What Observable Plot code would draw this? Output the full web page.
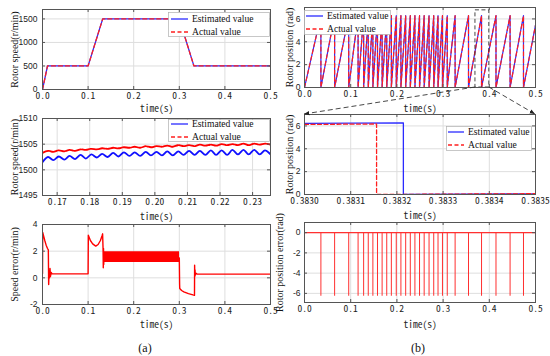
<!DOCTYPE html>
<html><head><meta charset="utf-8">
<script src="https://cdn.jsdelivr.net/npm/d3@7"></script>
<script src="https://cdn.jsdelivr.net/npm/@observablehq/plot@0.6"></script>
<style>
body{margin:0;background:#fff;}
#fig{position:relative;width:550px;height:356px;overflow:hidden;background:#fff;}
.cap{position:absolute;font-family:"Liberation Serif","Times New Roman",serif;font-size:12px;color:#111;transform:translate(-50%,-50%);}
</style></head><body><div id="fig"></div>
<script>
// ---------------- data ----------------
// (a) top: rotor speed profile
const speedT = [0, 0.011, 0.1, 0.132, 0.3, 0.332, 0.5];
const speedActual = [0, 500, 500, 1500, 1500, 500, 500];
const speedEstimated = [0, 501, 501, 1501, 1501, 501, 501];

// (a) middle: zoomed speed (ripple extrema)
const zoomSpeedT = [0.1655, 0.1672, 0.1688, 0.1705, 0.1722, 0.1738, 0.1755, 0.1772, 0.1788, 0.1805, 0.1822, 0.1838, 0.1855, 0.1872, 0.1888, 0.1905, 0.1922, 0.1938, 0.1955, 0.1972, 0.1988, 0.2005, 0.2022, 0.2038, 0.2055, 0.2072, 0.2088, 0.2105, 0.2122, 0.2138, 0.2155, 0.2172, 0.2188, 0.2205, 0.2222, 0.2238, 0.2255, 0.2272, 0.2288, 0.2305, 0.2322, 0.2338, 0.2355];
const zoomSpeedEstimated = [1501.5, 1502.5, 1501.9, 1502.6, 1502.0, 1502.7, 1502.1, 1502.9, 1502.2, 1503.0, 1502.4, 1503.1, 1502.5, 1503.3, 1502.6, 1503.4, 1502.7, 1503.4, 1502.7, 1503.5, 1502.8, 1503.5, 1502.8, 1503.6, 1502.8, 1503.6, 1502.9, 1503.7, 1502.9, 1503.7, 1502.9, 1503.8, 1502.9, 1503.8, 1502.9, 1503.9, 1503.0, 1503.9, 1503.0, 1503.9, 1503.0, 1503.8, 1503.0];
const zoomSpeedActual = [1503.3, 1503.7, 1503.5, 1503.8, 1503.6, 1503.9, 1503.7, 1504.0, 1503.9, 1504.1, 1504.0, 1504.2, 1504.1, 1504.3, 1504.2, 1504.4, 1504.3, 1504.5, 1504.3, 1504.6, 1504.4, 1504.6, 1504.5, 1504.7, 1504.5, 1504.8, 1504.6, 1504.8, 1504.6, 1504.9, 1504.7, 1504.9, 1504.7, 1505.0, 1504.8, 1505.0, 1504.8, 1505.1, 1504.8, 1505.1, 1504.9, 1505.1, 1504.9];

// (a) bottom: speed error
const errT = [0, 0.0005, 0.002, 0.005, 0.008, 0.011, 0.0128, 0.0135, 0.0145, 0.0155, 0.0165, 0.0175, 0.019, 0.021, 0.1, 0.1005, 0.105, 0.11, 0.1168, 0.122, 0.127, 0.131, 0.1318, 0.1328, 0.1333, 0.1338, 0.1343, 0.1348, 0.1355, 0.3, 0.3007, 0.301, 0.305, 0.31, 0.32, 0.33, 0.3333, 0.3336, 0.334, 0.3345, 0.335, 0.336, 0.339, 0.5];
const errV = [0.3, 3.4, 3.2, 2.8, 2.45, 2.2, 2.1, -0.5, 0.5, 0.0, 0.7, 0.1, 0.4, 0.3, 0.3, 3.2, 2.8, 2.55, 2.38, 2.5, 2.8, 3.2, 3.3, 2.2, 0.75, 2.2, 1.0, 1.9, 1.5, 1.5, -0.5, -0.8, -0.95, -1.05, -1.18, -1.28, -1.31, 0.95, 0.1, 0.6, 0.2, 0.35, 0.28, 0.28];
const errBandT = [0.1345, 0.3005];
const errBandLow = [1.15, 1.15];
const errBandHigh = [1.96, 1.96];

// (b) top / bottom: rotor position wrap instants
const wrapT = [0.0355, 0.0652, 0.0957, 0.116, 0.128, 0.138, 0.148, 0.158, 0.168, 0.178, 0.188, 0.1986, 0.2087, 0.219, 0.229, 0.239, 0.249, 0.259, 0.2696, 0.2797, 0.289, 0.2986, 0.309, 0.326, 0.355, 0.3832, 0.4145, 0.445, 0.474];
const posMax = 6.283;
const posEndT = 0.5, posEndV = 5.45;
const zoomBox = {x1: 0.37, x2: 0.40, y1: 0, y2: 6.75};

// (b) middle: zoomed rotor position
const zoomPosEstT = [0.3830, 0.383214, 0.383214, 0.3835];
const zoomPosEstV = [6.22, 6.27, 0.0, 0.06];
const zoomPosActT = [0.3830, 0.383156, 0.383156, 0.3835];
const zoomPosActV = [6.13, 6.17, 0.0, 0.07];

// (b) bottom: position error spike depth
const posErrDepth = -6.283;

// ---------------- drawing ----------------
const BLUE = "#2a2aff", RED = "#ff1f1f", GRID = "#dedede", FRAME = "#555";
const SANS = '"Liberation Sans", Arial, sans-serif';
const SERIF = '"Liberation Serif", "Times New Roman", serif';
const MONO = '"Noto Sans Mono CJK SC", "DejaVu Sans Mono", monospace';
const fig = document.getElementById("fig");
const zip = (xs, ys) => xs.map((t, i) => ({t, v: ys[i]}));
const tenths = [0, 0.1, 0.2, 0.3, 0.4, 0.5];

function panel(o) {
  const mT = 6, mB = 36;
  const innerW = o.width - o.mL - o.mR;
  const chart = Plot.plot({
    width: o.width, height: mT + o.frameH + mB,
    marginTop: mT, marginBottom: mB, marginLeft: o.mL, marginRight: o.mR,
    style: {background: "none", overflow: "visible", fontFamily: SANS, fontSize: "8.5px", color: "#222"},
    x: {domain: o.xDomain},
    y: {domain: o.yDomain},
    marks: [
      Plot.gridX(o.xTicks, {stroke: GRID, strokeOpacity: 1}),
      Plot.gridY(o.yTicks, {stroke: GRID, strokeOpacity: 1}),
      ...o.marks,
      Plot.tickX(o.xTicks, {x: d => d, insetTop: o.frameH - 3, stroke: FRAME}),
      Plot.tickX(o.xTicks, {x: d => d, insetBottom: o.frameH - 3, stroke: FRAME}),
      Plot.tickY(o.yTicks, {y: d => d, insetRight: innerW - 3, stroke: FRAME}),
      Plot.tickY(o.yTicks, {y: d => d, insetLeft: innerW - 3, stroke: FRAME}),
      Plot.frame({stroke: FRAME}),
      Plot.axisX(o.xTicks, {tickSize: 0, tickPadding: 3, tickFormat: o.xFmt, label: null, fontFamily: MONO, fontSize: 9.5}),
      Plot.axisY(o.yTicks, {tickSize: 0, tickPadding: o.yPad, tickFormat: d => String(d), label: null}),
      Plot.text(["time(s)"], {frameAnchor: "bottom", dy: o.timeDy, fontFamily: MONO, fontSize: 9.5, lineAnchor: "middle", textAnchor: "middle", fill: "#222"}),
      Plot.text([o.yLabel], {frameAnchor: "left", dx: -o.yLabelDx, rotate: -90, fontFamily: SERIF, fontSize: 10, lineAnchor: "middle", textAnchor: "middle", fill: "#111"})
    ]
  });
  d3.select(chart).selectAll('g[aria-label="x-axis tick label"]').attr("font-family", MONO).attr("font-size", 9.5);
  chart.style.position = "absolute";
  chart.style.left = o.left + "px";
  chart.style.top = (o.frameTop - mT) + "px";
  fig.appendChild(chart);
  return chart;
}

function legend(o) {
  const s = d3.create("svg").attr("width", o.w).attr("height", o.h)
    .style("position", "absolute").style("left", o.x + "px").style("top", o.y + "px");
  s.append("rect").attr("x", 0.5).attr("y", 0.5).attr("width", o.w - 1).attr("height", o.h - 1)
    .attr("fill", "#fff").attr("stroke", "#b0b0b0").attr("stroke-width", 0.7);
  const rows = [["Estimated value", BLUE, null], ["Actual value", RED, "4,2.5"]];
  rows.forEach(([label, c, dash], i) => {
    const yy = o.r[i] - o.y;
    s.append("line").attr("x1", o.l0 - o.x).attr("x2", o.l1 - o.x).attr("y1", yy).attr("y2", yy)
      .attr("stroke", c).attr("stroke-width", 1.3).attr("stroke-dasharray", dash);
    s.append("text").attr("x", o.tx - o.x).attr("y", yy).attr("dy", "0.34em")
      .attr("font-family", SERIF).attr("font-size", 9.6).attr("fill", "#111").text(label);
  });
  fig.appendChild(s.node());
}

// sawtooth built from the wrap instants
const saw = [{t: 0, v: 0}];
wrapT.forEach(w => { saw.push({t: w, v: posMax}); saw.push({t: w, v: 0}); });
saw.push({t: posEndT, v: posEndV});

// (a) top
panel({left: 0, width: 275, mL: 42, mR: 5, frameTop: 9, frameH: 80, timeDy: 19, yPad: 5, yLabelDx: 28,
  xDomain: [0, 0.5], yDomain: [0, 1700], xTicks: tenths, yTicks: [0, 500, 1000, 1500],
  xFmt: d => d.toFixed(1), yLabel: "Rotor speed(r/min)",
  marks: [
    Plot.line(zip(speedT, speedEstimated), {x: "t", y: "v", stroke: BLUE, strokeWidth: 1.3, clip: true}),
    Plot.line(zip(speedT, speedActual), {x: "t", y: "v", stroke: RED, strokeWidth: 1.3, strokeDasharray: "4,3", clip: true})
  ]});
legend({x: 168, y: 12, w: 102, h: 25, l0: 171, l1: 188, tx: 192, r: [19, 32]});

// (a) middle
panel({left: 0, width: 275, mL: 42, mR: 5, frameTop: 118, frameH: 77, timeDy: 21, yPad: 5, yLabelDx: 28,
  xDomain: [0.1655, 0.2355], yDomain: [1495, 1510], xTicks: [0.17, 0.18, 0.19, 0.20, 0.21, 0.22, 0.23],
  yTicks: [1495, 1500, 1505, 1510], xFmt: d => d.toFixed(2), yLabel: "Rotor speed(r/min)",
  marks: [
    Plot.line(zip(zoomSpeedT, zoomSpeedEstimated), {x: "t", y: "v", stroke: "#1010ff", strokeWidth: 1.8, curve: "catmull-rom", clip: true}),
    Plot.line(zip(zoomSpeedT, zoomSpeedActual), {x: "t", y: "v", stroke: "#ff0000", strokeWidth: 1.8, strokeDasharray: "7,1.2", curve: "catmull-rom", clip: true})
  ]});
legend({x: 168, y: 119, w: 102, h: 23, l0: 171, l1: 188, tx: 192, r: [124, 137]});

// (a) bottom
panel({left: 0, width: 275, mL: 42, mR: 5, frameTop: 224, frameH: 80, timeDy: 20, yPad: 5, yLabelDx: 28,
  xDomain: [0, 0.5], yDomain: [-2, 4], xTicks: tenths, yTicks: [-2, 0, 2, 4],
  xFmt: d => d.toFixed(1), yLabel: "Speed error(r/min)",
  marks: [
    Plot.areaY(errBandT.map((t, i) => ({t, lo: errBandLow[i], hi: errBandHigh[i]})), {x: "t", y1: "lo", y2: "hi", fill: "#ff0000", clip: true}),
    Plot.line(zip(errT, errV), {x: "t", y: "v", stroke: "#ff0000", strokeWidth: 1.4, clip: true})
  ]});

// (b) top
const tr = panel({left: 275, width: 275, mL: 29, mR: 15, frameTop: 7, frameH: 80, timeDy: 21, yPad: 4, yLabelDx: 15,
  xDomain: [0, 0.5], yDomain: [0, 7], xTicks: tenths, yTicks: [0, 2, 4, 6],
  xFmt: d => d.toFixed(1), yLabel: "Rotor position (rad)",
  marks: [
    Plot.line(saw, {x: "t", y: "v", stroke: BLUE, strokeWidth: 1.2, clip: true}),
    Plot.line(saw, {x: "t", y: "v", stroke: RED, strokeWidth: 1.2, strokeDasharray: "4,3", clip: true}),
    Plot.rect([zoomBox], {x1: "x1", x2: "x2", y1: "y1", y2: "y2", fill: "none", stroke: "#333", strokeWidth: 0.9, strokeDasharray: "4,2.5"})
  ]});
legend({x: 304, y: 10, w: 87, h: 25, l0: 306, l1: 323, tx: 327, r: [16, 29]});

// (b) middle
const mr = panel({left: 275, width: 275, mL: 29, mR: 15, frameTop: 114, frameH: 80, timeDy: 21, yPad: 4, yLabelDx: 15,
  xDomain: [0.3830, 0.3835], yDomain: [0, 7], xTicks: [0.3830, 0.3831, 0.3832, 0.3833, 0.3834, 0.3835],
  yTicks: [0, 2, 4, 6], xFmt: d => d.toFixed(4), yLabel: "Rotor position (rad)",
  marks: [
    Plot.line(zip(zoomPosEstT, zoomPosEstV), {x: "t", y: "v", stroke: BLUE, strokeWidth: 1.3, clip: true}),
    Plot.line(zip(zoomPosActT, zoomPosActV), {x: "t", y: "v", stroke: RED, strokeWidth: 1.3, strokeDasharray: "4,2.5", clip: true})
  ]});
legend({x: 446, y: 126, w: 86, h: 25, l0: 448, l1: 464, tx: 468, r: [132, 145]});

// (b) bottom
panel({left: 275, width: 275, mL: 29, mR: 15, frameTop: 222, frameH: 80, timeDy: 22, yPad: 4, yLabelDx: 25,
  xDomain: [0, 0.5], yDomain: [-6.9, 1], xTicks: tenths, yTicks: [-6, -4, -2, 0],
  xFmt: d => d.toFixed(1), yLabel: "Rotor position error(rad)",
  marks: [
    Plot.ruleY([0], {x1: 0, x2: 0.5, stroke: "#ff3030", strokeWidth: 1.1, clip: true}),
    Plot.ruleX(wrapT, {x: d => d, y1: 0, y2: posErrDepth, stroke: "#ff3030", strokeWidth: 1, clip: true})
  ]});

// zoom connectors (positions taken from the panels' own scales)
{
  const sx = tr.scale("x"), sy = tr.scale("y");
  const trTop = 7 - 6, mrFrameTop = 114;
  const bx0 = 275 + sx.apply(zoomBox.x1), bx1 = 275 + sx.apply(zoomBox.x2), by = trTop + sy.apply(zoomBox.y1);
  const mx0 = 275 + 29, mx1 = 550 - 15;
  const s = d3.create("svg").attr("width", 550).attr("height", 356)
    .style("position", "absolute").style("left", 0).style("top", 0).style("pointer-events", "none");
  s.append("defs").append("marker").attr("id", "arr").attr("viewBox", "0 0 10 10").attr("refX", 10).attr("refY", 5)
    .attr("markerWidth", 6).attr("markerHeight", 6).attr("orient", "auto")
    .append("path").attr("d", "M0,1L10,5L0,9z").attr("fill", "#222");
  [[bx0, mx0], [bx1, mx1]].forEach(([a, b]) => {
    s.append("line").attr("x1", a).attr("y1", by).attr("x2", b).attr("y2", mrFrameTop)
      .attr("stroke", "#333").attr("stroke-width", 0.9).attr("stroke-dasharray", "5,3").attr("marker-end", "url(#arr)");
  });
  fig.appendChild(s.node());
}

// captions
[["(a)", 145], ["(b)", 418]].forEach(([t, x]) => {
  const d = document.createElement("div");
  d.className = "cap"; d.textContent = t; d.style.left = x + "px"; d.style.top = "348px";
  fig.appendChild(d);
});
</script>
</body></html>
